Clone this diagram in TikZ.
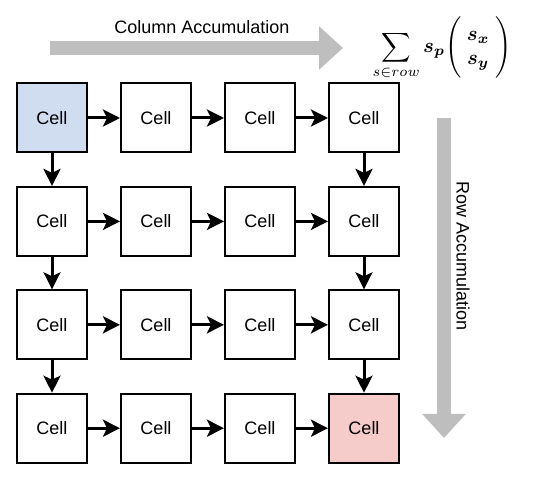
\documentclass[tikz,border=0pt]{standalone}
\usepackage{amsmath,amssymb,bm}
\usepackage{fontspec}
\setmainfont{Liberation Sans}
\usetikzlibrary{arrows.meta}

\definecolor{cellblue}{RGB}{208,220,240}
\definecolor{cellpink}{RGB}{245,204,202}
\definecolor{accgray}{RGB}{190,190,190}

\begin{document}
\begin{tikzpicture}[x=1pt, y=-1pt, >={Stealth[length=17pt, width=17pt, inset=4pt]},
      cell/.style={draw, line width=2pt, minimum width=70pt, minimum height=69pt,
                   inner sep=0pt, font=\fontsize{18}{20}\selectfont},
      arr/.style={->, line width=3pt},
      acc/.style={line width=14pt, accgray,
                  -{Triangle[length=24pt, width=42pt]}},
      lbl/.style={font=\fontsize{18}{20}\selectfont}]

    \useasboundingbox (0,0) rectangle (550,478);

    % ---- Layout ----
    \def\dx{104}     % column pitch
    \def\dy{103.4}   % row pitch

    % ---- 4x4 grid of cells ----
    \foreach \i in {0,...,3}
      \foreach \j in {0,...,3}
        \node[cell] (c\i\j) at (52+\j*\dx, 118+\i*\dy) {Cell};
    \node[cell, fill=cellblue] at (c00) {Cell};
    \node[cell, fill=cellpink] at (c33) {Cell};

    % ---- along each row ----
    \foreach \i in {0,...,3}
      \foreach \j/\k in {0/1,1/2,2/3}
        \draw[arr] (c\i\j.east) -- (c\i\k.west);

    % ---- down first and last column ----
    \foreach \i/\k in {0/1,1/2,2/3} {
      \draw[arr] (c\i0.south) -- (c\k0.north);
      \draw[arr] (c\i3.south) -- (c\k3.north);
    }

    % ---- accumulation arrows ----
    \coordinate (colL) at (50, 48);
    \coordinate (colR) at (343, 48);
    \coordinate (rowT) at (444, 118);
    \coordinate (rowB) at (444, 438);
    \draw[acc] (colL) -- (colR);
    \draw[acc] (rowT) -- (rowB);

    \node[lbl] (collbl) at (202, 27) {Column Accumulation};
    \node[lbl, rotate=-90] (rowlbl) at (463, 256) {Row Accumulation};

    % ---- sum formula ----
    \node[scale=2.05, inner sep=0pt] (sum) at (442, 48)
      {$\displaystyle\sum_{s\in row}\bm{s_p}
        \Biggl(\;\begin{matrix}\bm{s_x}\\ \bm{s_y}\end{matrix}\;\Biggr)$};

\end{tikzpicture}
\end{document}
